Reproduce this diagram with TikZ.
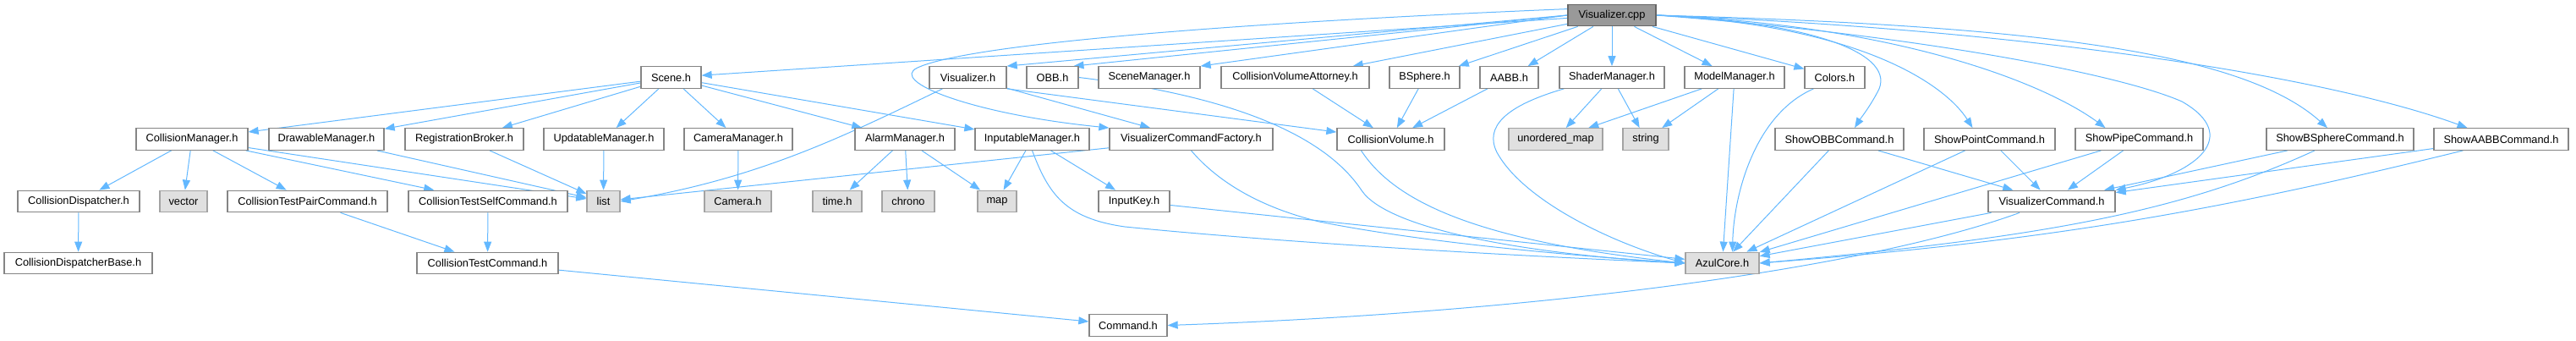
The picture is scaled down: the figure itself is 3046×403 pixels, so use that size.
\documentclass[tikz,border=0pt]{standalone}
\usepackage{fontspec}
\setmainfont{Liberation Sans}
\usetikzlibrary{arrows.meta,positioning,backgrounds}
\definecolor{depblue}{HTML}{63B8FF}
\definecolor{boxline}{HTML}{858585}
\definecolor{rootfill}{HTML}{999999}
\definecolor{rootline}{HTML}{666666}
\definecolor{extfill}{HTML}{E0E0E0}
\definecolor{extline}{HTML}{A3A3A3}
\tikzset{
  hdr/.style={draw=boxline,line width=1.3pt,fill=white,inner sep=0pt,minimum height=25.5pt},
  ext/.style={hdr,draw=extline,fill=extfill},
  root/.style={hdr,draw=rootline,fill=rootfill},
  dep/.style={depblue,line width=1pt,-{Triangle[length=12pt,width=9pt]}},
}

\begin{document}
\begin{tikzpicture}[x=1pt,y=-1pt,font=\fontsize{12.8}{15}\selectfont]
\useasboundingbox (0,0) rectangle (3046,403);
% the file itself
\node[root,minimum width=104] (vcpp) at (1906,18) {Visualizer.cpp};
% first level
\foreach \n/\x/\w/\t in {scene/793.5/71/Scene.h, vish/1144.5/91/Visualizer.h, obb/1244.5/61/OBB.h,
  scenemgr/1359/120/SceneManager.h, cvatt/1531.5/175/CollisionVolumeAttorney.h, bsphere/1684.5/83/BSphere.h,
  aabb/1784.5/69/AABB.h, shader/1906/124/ShaderManager.h, model/2051/118/ModelManager.h, colors/2169.5/71/Colors.h}
  {\node[hdr,minimum width=\w] (\n) at (\x,91.5) {\t};}
% second level
\foreach \n/\x/\w/\t in {colmgr/227/132/CollisionManager.h, drawmgr/386/136/DrawableManager.h,
  regbroker/549/140/RegistrationBroker.h, updmgr/714/142/UpdatableManager.h, cammgr/873/128/CameraManager.h,
  alarmmgr/1070/118/AlarmManager.h, inputmgr/1220.5/135/InputableManager.h, vcfactory/1408.5/193/VisualizerCommandFactory.h,
  colvol/1644.5/127/CollisionVolume.h, showobb/2175/152/ShowOBBCommand.h, showpoint/2352.5/155/ShowPointCommand.h,
  showpipe/2529.5/151/ShowPipeCommand.h, showbsphere/2767/174/ShowBSphereCommand.h, showaabb/2957.5/159/ShowAABBCommand.h}
  {\node[hdr,minimum width=\w] (\n) at (\x,164.5) {\t};}
\foreach \n/\x/\w/\t in {umap/1839.5/111/unordered\_map, string/1946/54/string}
  {\node[ext,minimum width=\w] (\n) at (\x,164.5) {\t};}
% third level
\foreach \n/\x/\w/\t in {coldisp/93/144/CollisionDispatcher.h, ctpair/363.5/189/CollisionTestPairCommand.h,
  ctself/577/188/CollisionTestSelfCommand.h, inputkey/1341/84/InputKey.h, viscmd/2426/150/VisualizerCommand.h}
  {\node[hdr,minimum width=\w] (\n) at (\x,238) {\t};}
\foreach \n/\x/\w/\t in {vector/217/56/vector, list/713.5/39/list, camera/872.5/79/Camera.h,
  time/990/58/time.h, chrono/1074/62/chrono, map/1179/46/map}
  {\node[ext,minimum width=\w] (\n) at (\x,238) {\t};}
% fourth and fifth level
\node[hdr,minimum width=175] (coldispbase) at (92.5,311) {CollisionDispatcherBase.h};
\node[hdr,minimum width=167] (cttest) at (576.5,311) {CollisionTestCommand.h};
\node[ext,minimum width=87] (azul) at (2036.5,311) {AzulCore.h};
\node[hdr,minimum width=92] (command) at (1334,384.5) {Command.h};

\begin{scope}[on background layer]
% straight includes
\foreach \a/\b in {vcpp/scene, vcpp/cvatt, vcpp/bsphere, vcpp/aabb, vcpp/shader, vcpp/model, vcpp/colors,
  scene/colmgr, scene/drawmgr, scene/regbroker, scene/updmgr, scene/cammgr, scene/alarmmgr, scene/inputmgr,
  colmgr/coldisp, colmgr/vector, colmgr/ctpair, colmgr/ctself, colmgr/list, drawmgr/list, regbroker/list, updmgr/list,
  coldisp/coldispbase, ctpair/cttest, ctself/cttest, cttest/command, cammgr/camera,
  alarmmgr/time, alarmmgr/chrono, alarmmgr/map, inputmgr/map, inputmgr/inputkey, inputkey/azul,
  vish/vcfactory, vcfactory/list, cvatt/colvol, bsphere/colvol, aabb/colvol,
  shader/umap, shader/string, model/umap, model/string, model/azul,
  showobb/azul, showobb/viscmd, showpoint/azul, showpoint/viscmd, showpipe/azul, showpipe/viscmd,
  showbsphere/viscmd, showaabb/viscmd, viscmd/azul}
  {\draw[dep] (\a) -- (\b);}
\draw[dep] (vcpp.west) -- (vish.north east);
\draw[dep] (vcpp.west) -- ([xshift=25]obb.north);
\draw[dep] (vcpp.west) -- (scenemgr.north east);
\draw[dep] (vish.south east) -- (colvol);

% curved includes
\draw[dep] (vcpp.172) .. controls (1500,25) and (1150,50) .. (1085,80)
  .. controls (1050,96) and (1150,135) .. (vcfactory.north west);
\draw[dep] (vcpp.east) .. controls (2130,25) and (2240,60) .. (2222,105)
  .. controls (2212,125) and (2200,140) .. ([xshift=18]showobb.north);
\draw[dep] (vcpp.east) .. controls (2200,30) and (2300,100) .. ([xshift=-20]showpoint.north);
\draw[dep] (vcpp.east) .. controls (2250,30) and (2420,100) .. ([xshift=-40]showpipe.north);
\draw[dep] (vcpp.east) .. controls (2400,30) and (2650,60) .. ([xshift=-15]showbsphere.north);
\draw[dep] (vcpp.east) .. controls (2400,35) and (2750,90) .. ([xshift=-40]showaabb.north);
\draw[dep] (vcpp.east) .. controls (2250,40) and (2500,85) .. (2580,120)
  .. controls (2650,160) and (2600,205) .. (viscmd.north east);
\draw[dep] ([xshift=-30]vish.south) .. controls (1000,160) and (900,210) .. (list.east);
\draw[dep] (inputmgr.south) .. controls (1240,230) and (1260,258) .. (1330,268)
  .. controls (1550,290) and (1850,305) .. (azul.west);
\draw[dep] (vcfactory.south) .. controls (1440,215) and (1490,245) .. (1560,262)
  .. controls (1700,290) and (1900,305) .. (azul.west);
\draw[dep] (obb.east) .. controls (1430,110) and (1560,150) .. (1610,225)
  .. controls (1640,270) and (1800,300) .. (azul.west);
\draw[dep] ([xshift=-35]colvol.south) .. controls (1650,240) and (1750,285) .. (azul.west);
\draw[dep] ([xshift=6]shader.south west) .. controls (1780,125) and (1755,150) .. (1770,180)
  .. controls (1800,235) and (1900,285) .. (azul.west);
\draw[dep] ([xshift=-25]colors.south) .. controls (2075,135) and (2050,230) .. ([xshift=12]azul.north);
\draw[dep] ([xshift=-30]showbsphere.south) .. controls (2580,250) and (2420,280) .. (azul.east);
\draw[dep] ([xshift=-45]showaabb.south) .. controls (2620,250) and (2420,285) .. (azul.east);
\draw[dep] ([xshift=-38]viscmd.south) .. controls (2200,320) and (1800,370) .. (command.east);
\end{scope}
\end{tikzpicture}
\end{document}
